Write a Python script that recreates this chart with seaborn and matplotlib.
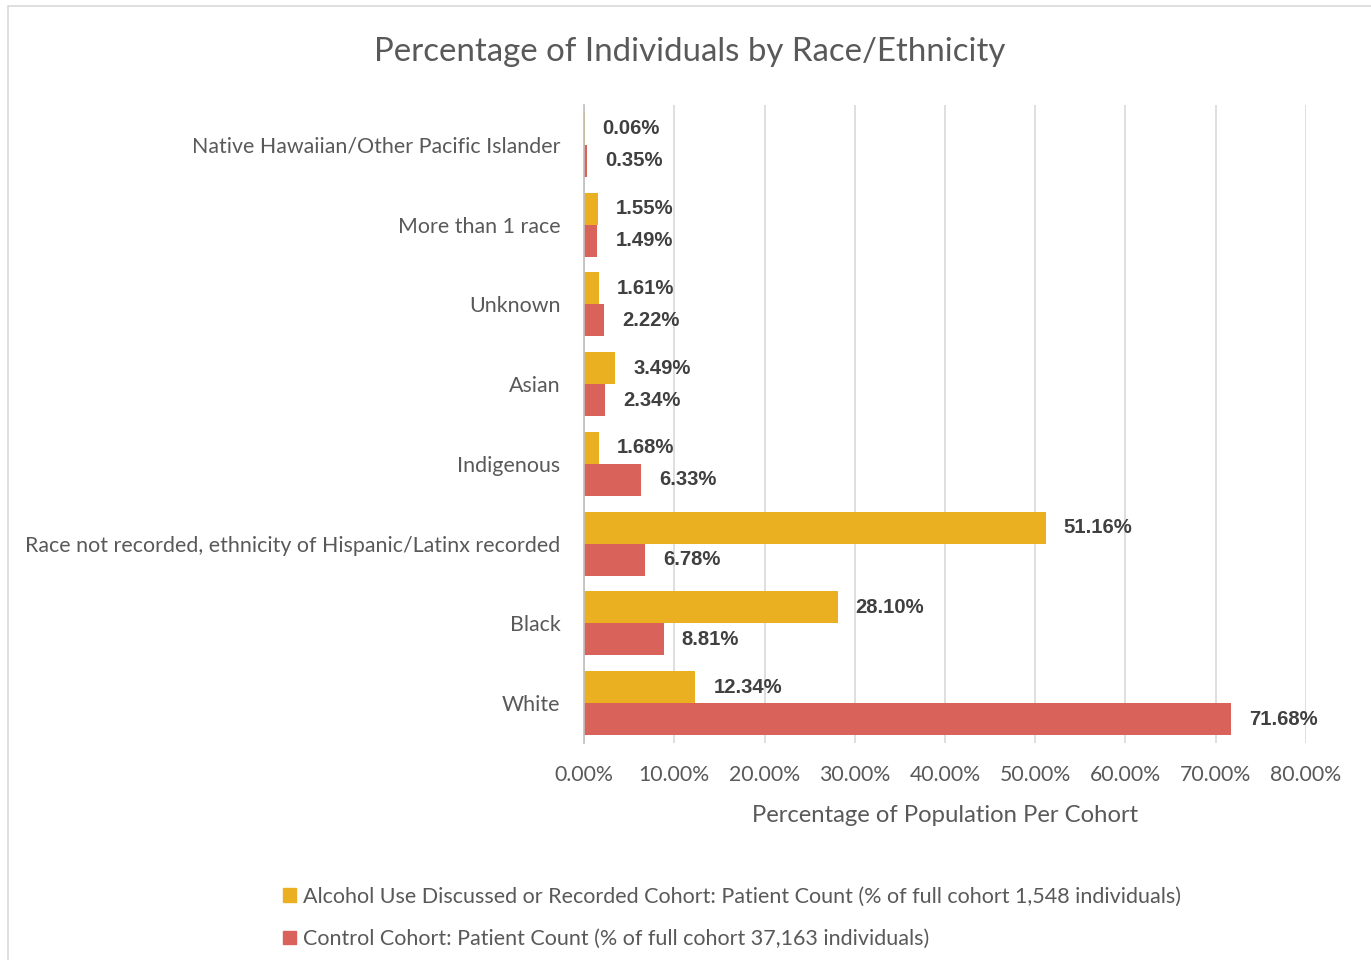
import matplotlib
matplotlib.use("Agg")
import matplotlib.pyplot as plt
from matplotlib.patches import Rectangle
from matplotlib.ticker import FuncFormatter
import pandas as pd
import seaborn as sns

# Race / ethnicity groups, top to bottom
categories = [
    "Native Hawaiian/Other Pacific Islander",
    "More than 1 race",
    "Unknown",
    "Asian",
    "Indigenous",
    "Race not recorded, ethnicity of Hispanic/Latinx recorded",
    "Black",
    "White",
]
alcohol_pct = [0.06, 1.55, 1.61, 3.49, 1.68, 51.16, 28.10, 12.34]
control_pct = [0.35, 1.49, 2.22, 2.34, 6.33, 6.78, 8.81, 71.68]
series_names = [
    "Alcohol Use Discussed or Recorded Cohort: Patient Count (% of full cohort 1,548 individuals)",
    "Control Cohort: Patient Count (% of full cohort 37,163 individuals)",
]
x_ticks = [0, 10, 20, 30, 40, 50, 60, 70, 80]

df = pd.DataFrame({
    "Group": categories * 2,
    "Percent": alcohol_pct + control_pct,
    "Cohort": [series_names[0]] * len(categories) + [series_names[1]] * len(categories),
})

sns.set_theme(style="white")
plt.rcParams["font.family"] = ["Lato", "DejaVu Sans"]

TEXT = "#595959"
GRID = "#D9D9D9"
palette = {series_names[0]: "#EBB022", series_names[1]: "#D9635A"}

fig = plt.figure(figsize=(13.71, 9.6), dpi=100)
fig.patch.set_facecolor("white")
fig.patches.append(Rectangle((8 / 1371, -0.05), 1.1, 1.05 - 6 / 960, transform=fig.transFigure,
                             fill=False, edgecolor=GRID, linewidth=1.2))

ax = fig.add_axes([584 / 1371, 1 - 743 / 960, (1306 - 584) / 1371, (743 - 105) / 960])
sns.barplot(data=df, y="Group", x="Percent", hue="Cohort", order=categories,
            hue_order=series_names, palette=palette, orient="h", width=0.8,
            saturation=1, legend=False, linewidth=0, ax=ax)

for container in ax.containers:
    ax.bar_label(container, labels=[f"{b.get_width():.2f}%" for b in container],
                 padding=13, fontsize=14.6, fontweight="bold", color="#404040",
                 family="Liberation Sans")

ax.set_xlim(0, 80)
ax.set_xticks(x_ticks)
ax.xaxis.set_major_formatter(FuncFormatter(lambda v, p: f"{v:.2f}%"))
ax.grid(axis="x", color=GRID, linewidth=1.2)
ax.set_axisbelow(True)
for side in ["top", "right", "bottom"]:
    ax.spines[side].set_visible(False)
ax.spines["left"].set_color("#BFBFBF")
ax.spines["left"].set_linewidth(1.2)
ax.tick_params(axis="y", length=0, pad=17, labelsize=15.4, labelcolor=TEXT)
ax.tick_params(axis="x", length=0, pad=16, labelsize=15.3, labelcolor=TEXT)
ax.set_ylabel("")
ax.set_xlabel("Percentage of Population Per Cohort", fontsize=17.2, color=TEXT, labelpad=14)

fig.text(690 / 1371, 1 - 52 / 960, "Percentage of Individuals by Race/Ethnicity",
         ha="center", va="center", fontsize=23.8, color=TEXT)

handles = [Rectangle((0, 0), 1, 1, color=palette[s]) for s in series_names]
fig.legend(handles, series_names, loc="upper left", bbox_to_anchor=(264 / 1371, 1 - 867 / 960),
           frameon=False, fontsize=15.5, labelcolor=TEXT, handlelength=0.6, handleheight=0.6,
           handletextpad=0.3, labelspacing=1.05)

fig.savefig("out.png", dpi=100)
